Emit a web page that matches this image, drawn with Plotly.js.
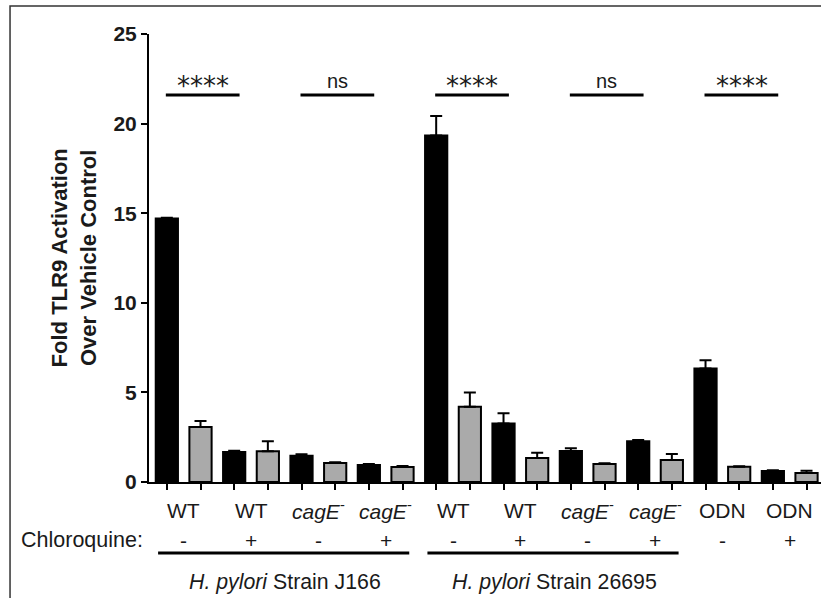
<!DOCTYPE html>
<html>
<head>
<meta charset="utf-8">
<script src="https://cdn.plot.ly/plotly-3.0.1.min.js"></script>
<style>
  html, body { margin: 0; padding: 0; background: #fff; }
  #chart { width: 821px; height: 598px; }
</style>
</head>
<body>
<div id="chart"></div>
<script>
// ---- data ----
var barIndex = [0,1,2,3,4,5,6,7,8,9,10,11,12,13,14,15,16,17,18,19];
var foldValues = [14.7, 3.07, 1.67, 1.71, 1.47, 1.06, 0.95, 0.84,
                  19.34, 4.2, 3.27, 1.34, 1.73, 1.0, 2.27, 1.23,
                  6.34, 0.85, 0.62, 0.5];
var foldErrors = [0.05, 0.33, 0.07, 0.57, 0.08, 0.04, 0.05, 0.05,
                  1.08, 0.8, 0.56, 0.29, 0.15, 0.04, 0.08, 0.33,
                  0.46, 0.03, 0.04, 0.13];
var chloroquine = ['-', '+', '-', '+', '-', '+', '-', '+', '-', '+'];
var groupLabels = ['WT', 'WT', '<i>cagE</i><sup>-</sup>', '<i>cagE</i><sup>-</sup>',
                   'WT', 'WT', '<i>cagE</i><sup>-</sup>', '<i>cagE</i><sup>-</sup>',
                   'ODN', 'ODN'];
var sigStart = [0, 4, 8, 12, 16];
var sigEnd = [2, 6, 10, 14, 18];
var sigLabels = ['****', 'ns', '****', 'ns', '****'];
var sigLevel = 21.6;
var strainLabels = ['<i>H. pylori</i> Strain J166', '<i>H. pylori</i> Strain 26695'];
var strainFirst = [0, 8];
var strainLast = [7, 15];
var yTicks = [0, 5, 10, 15, 20, 25];

// ---- style ----
var FONT = 'Liberation Sans, Arial, Helvetica, sans-serif';
var STAR_FONT = 'DejaVu Sans, sans-serif';
var TXT = '#1a1a1a';
var colors = barIndex.map(function (i) { return i % 2 === 0 ? '#000000' : '#aaaaaa'; });
var zeros = barIndex.map(function () { return 0; });

var trace = {
  type: 'bar',
  x: barIndex,
  y: foldValues,
  width: 0.66,
  marker: { color: colors, line: { color: '#000', width: 2 } },
  error_y: {
    type: 'data', symmetric: false, array: foldErrors, arrayminus: zeros,
    color: '#000', thickness: 2, width: 6
  },
  hoverinfo: 'skip'
};

var annotations = [];
var shapes = [];

// y title
annotations.push({
  xref: 'paper', yref: 'paper', x: -0.111, y: 0.5,
  text: '<b>Fold TLR9 Activation<br>Over Vehicle Control</b>',
  textangle: -90, showarrow: false, xanchor: 'center', yanchor: 'middle',
  font: { family: FONT, size: 22, color: TXT }
});

// group labels & chloroquine signs
groupLabels.forEach(function (lab, k) {
  var xc = 2 * k + 0.5;
  annotations.push({
    xref: 'x', yref: 'paper', x: xc, y: -0.0625, text: lab, showarrow: false,
    xanchor: 'center', yanchor: 'middle', font: { family: FONT, size: 21, color: TXT }
  });
  annotations.push({
    xref: 'x', yref: 'paper', x: xc, y: -0.1295, text: chloroquine[k], showarrow: false,
    xanchor: 'center', yanchor: 'middle', font: { family: FONT, size: 21, color: TXT }
  });
});
annotations.push({
  xref: 'paper', yref: 'paper', x: -0.1004, y: -0.1295, text: 'Chloroquine:', showarrow: false,
  xanchor: 'center', yanchor: 'middle', font: { family: FONT, size: 21.5, color: TXT }
});

// strain lines and labels
strainLabels.forEach(function (lab, k) {
  shapes.push({
    type: 'line', xref: 'x', yref: 'paper',
    x0: strainFirst[k] - 0.26, x1: strainLast[k] + 0.2, y0: -0.1585, y1: -0.1585,
    line: { color: '#000', width: 3 }
  });
  annotations.push({
    xref: 'x', yref: 'paper', x: (strainFirst[k] + strainLast[k]) / 2 + 0.02, y: -0.223,
    text: lab, showarrow: false, xanchor: 'center', yanchor: 'middle',
    font: { family: FONT, size: 21.3, color: TXT }
  });
});

// significance bars
sigLabels.forEach(function (lab, k) {
  shapes.push({
    type: 'line', xref: 'x', yref: 'y',
    x0: sigStart[k] - 0.03, x1: sigEnd[k] + 0.16, y0: sigLevel, y1: sigLevel,
    line: { color: '#000', width: 3 }
  });
  var isStar = lab.indexOf('*') >= 0;
  annotations.push({
    xref: 'x', yref: 'y', x: (sigStart[k] + sigEnd[k]) / 2 + 0.07, y: sigLevel,
    text: lab, showarrow: false, xanchor: 'center', yanchor: 'bottom',
    yshift: isStar ? -8 : 1,
    font: { family: isStar ? STAR_FONT : FONT, size: isStar ? 26 : 20, color: TXT }
  });
});

// outer frame
shapes.push({
  type: 'rect', xref: 'paper', yref: 'paper', layer: 'below',
  x0: -0.2068, x1: 1.02, y0: -0.30, y1: 1.0625,
  line: { color: '#333', width: 1.5 }, fillcolor: 'rgba(0,0,0,0)'
});

var layout = {
  width: 821, height: 598,
  margin: { l: 149, r: 0, t: 34, b: 116, pad: 0 },
  paper_bgcolor: '#fff', plot_bgcolor: '#fff',
  showlegend: false,
  xaxis: {
    range: [-0.53, 19.43], tickvals: barIndex, showticklabels: false,
    ticks: 'outside', ticklen: 6, tickwidth: 2, tickcolor: '#000',
    showline: true, linewidth: 2, linecolor: '#000',
    showgrid: false, zeroline: false, fixedrange: true
  },
  yaxis: {
    range: [0, 25], tickvals: yTicks, ticktext: yTicks.map(String),
    ticks: 'outside', ticklen: 6, tickwidth: 2, tickcolor: '#000',
    showline: true, linewidth: 2, linecolor: '#000',
    showgrid: false, zeroline: false, fixedrange: true,
    tickfont: { family: FONT, size: 21, color: TXT, weight: 'bold' }
  },
  annotations: annotations,
  shapes: shapes
};

Plotly.newPlot('chart', [trace], layout, { staticPlot: true, displayModeBar: false });
</script>
</body>
</html>
